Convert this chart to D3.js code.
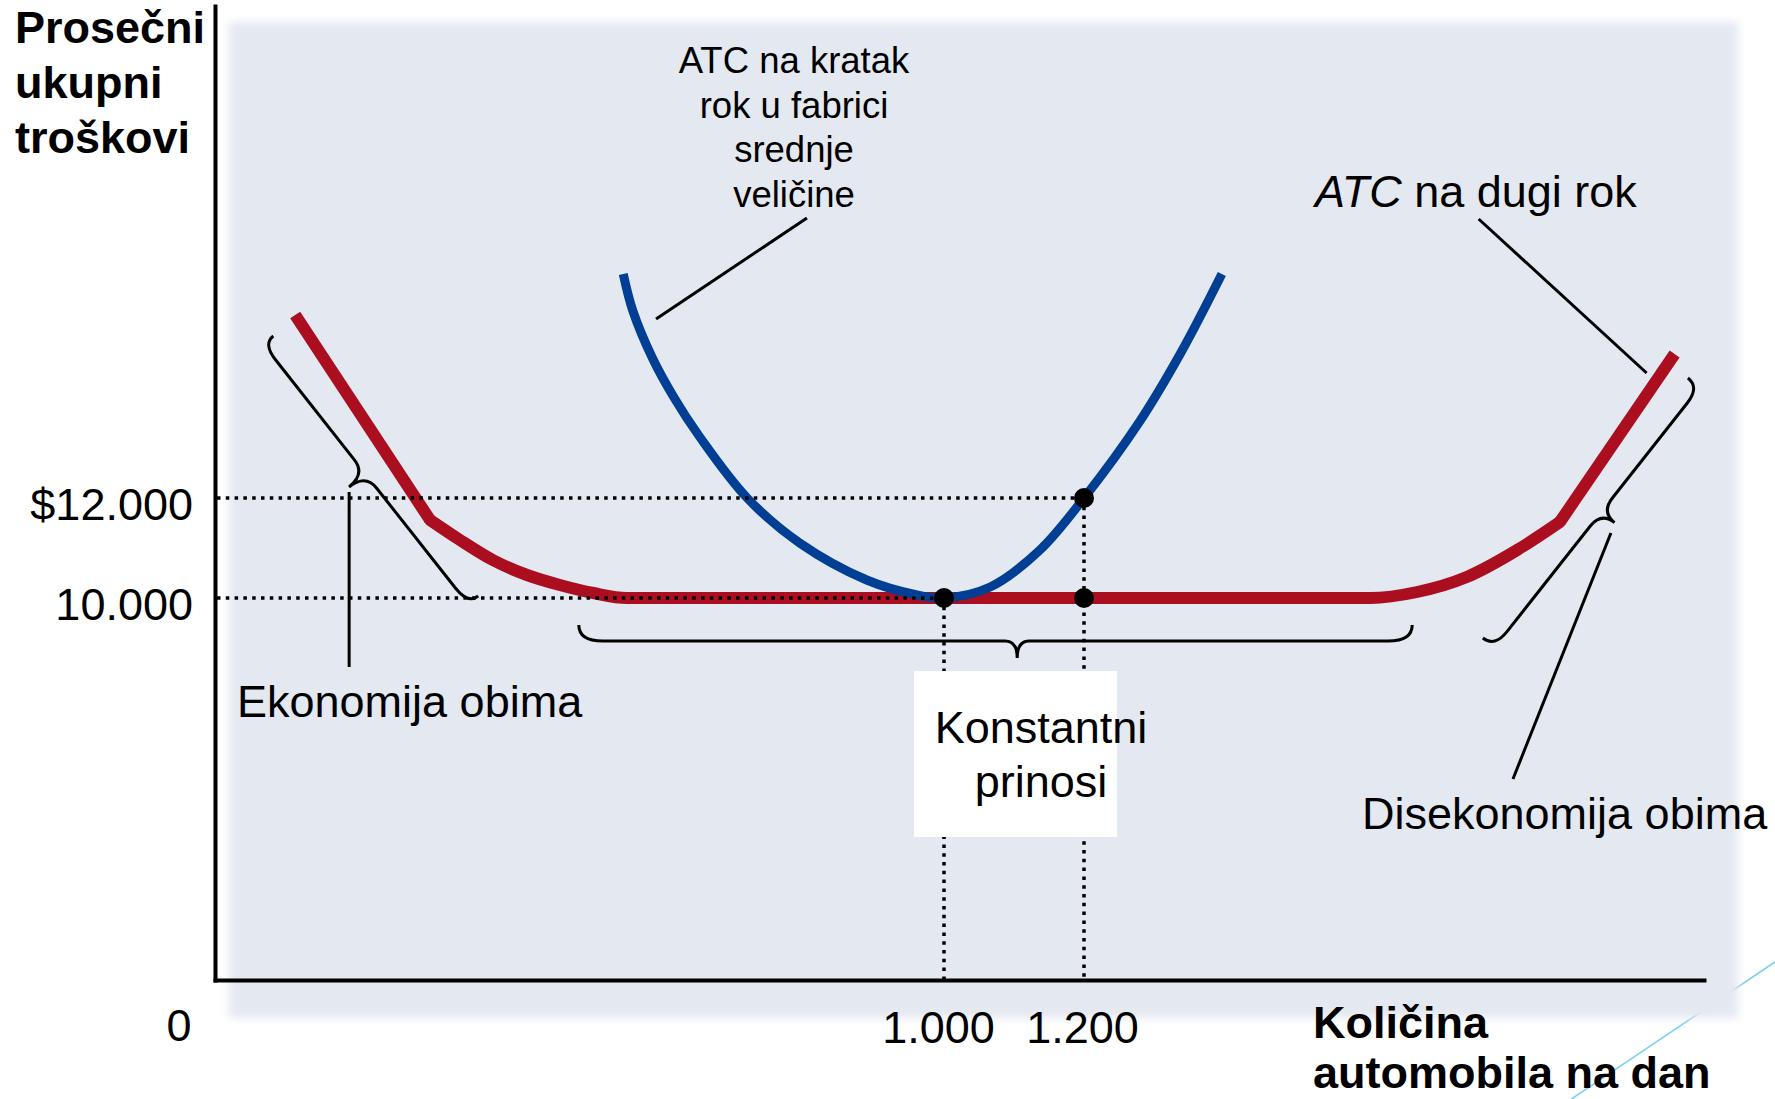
<!DOCTYPE html>
<html>
<head>
<meta charset="utf-8">
<script src="https://cdn.jsdelivr.net/npm/d3@7"></script>
<style>
  body { margin: 0; background: #fff; }
  text { font-family: "Liberation Sans", Arial, sans-serif; fill: #000; }
</style>
</head>
<body>
<div id="chart"></div>
<script>
// Long-run ATC (red): quantity of cars per day vs. average total cost
const lracQ = [110, 295, 336, 381, 428, 473, 519, 565, 1000, 1609, 1676, 1747, 1819, 1880, 2044];
const lracC = [15660, 11560, 11160, 10760, 10460, 10260, 10100, 10000, 10000, 10000, 10120, 10420, 10960, 11520, 14880];
// index of the two kinks where the straight arms meet the curved bottom
const lracKinks = [1, 13];

// Short-run ATC of the medium-size factory (blue)
const sracQ = [560, 573, 600, 630, 665, 730, 802, 894, 963, 1000, 1066, 1137, 1200, 1280, 1339, 1397];
const sracC = [16480, 15750, 14800, 14000, 13220, 12000, 11100, 10360, 10060, 10000, 10220, 10960, 12000, 13540, 14920, 16480];

// marked points
const pointQ = [1000, 1200, 1200];
const pointC = [10000, 12000, 10000];

// axis ticks
const xTicks = [1000, 1200];
const xTickLabels = ["1.000", "1.200"];
const yTicks = [10000, 12000];
const yTickLabels = ["10.000", "$12.000"];

// braces (start / end in data units, tip position as share of length)
const braceStartQ = [80, 499, 1770];
const braceStartC = [15240, 9293, 8953];
const braceEndQ = [361, 1669, 2063];
const braceEndC = [10040, 9293, 14400];
const braceTip = [0.5, 0.526, 0.52];

// leader lines
const leaderFromQ = [812, 1764, 184, 1953];
const leaderFromC = [17600, 17580, 12120, 11300];
const leaderToQ = [605, 2004, 184, 1813];
const leaderToC = [15580, 14500, 8194, 5262];

const width = 1775, height = 1099;

// schematic axes: the origin is not to scale, so use piecewise scales
const x = d3.scaleLinear()
            .domain([0, 1000, 1200, 2086])
            .range([215, 944, 1084, 1704]);
const y = d3.scaleLinear()
            .domain([0, 10000, 21840])
            .range([980, 598, 6]);

const svg = d3.select("#chart")
              .append("svg")
              .attr("width", width)
              .attr("height", height);

// slide decoration
svg.append("line")
   .attr("x1", 1775).attr("y1", 962)
   .attr("x2", 1570).attr("y2", 1100)
   .attr("stroke", "#7fcfee")
   .attr("stroke-width", 1.6);

// panel with soft edges
const defs = svg.append("defs");
defs.append("filter")
    .attr("id", "soft")
    .attr("x", "-5%").attr("y", "-5%")
    .attr("width", "110%").attr("height", "110%")
    .append("feGaussianBlur")
    .attr("stdDeviation", 4);

svg.append("rect")
   .attr("x", 229).attr("y", 22)
   .attr("width", 1509).attr("height", 996)
   .attr("fill", "#e4e8f0")
   .attr("filter", "url(#soft)");

const straight = d3.line()
                   .x(d => x(d[0]))
                   .y(d => y(d[1]));
const smooth = d3.line()
                 .x(d => x(d[0]))
                 .y(d => y(d[1]))
                 .curve(d3.curveMonotoneX);
const smoothU = d3.line()
                  .x(d => x(d[0]))
                  .y(d => y(d[1]))
                  .curve(d3.curveCatmullRom.alpha(0.5));

// braces
function bracePath(a, b, e, c, r, cr, tf) {
    const dx = b[0] - a[0], dy = b[1] - a[1];
    const L = Math.sqrt(dx * dx + dy * dy);
    const ux = dx / L, uy = dy / L;
    const vx = -uy, vy = ux;
    const P = (u, v) => [a[0] + u * ux + v * vx, a[1] + u * uy + v * vy].map(n => n.toFixed(1)).join(",");
    const t = L * tf;
    return "M" + P(0, 0) +
           "Q" + P(0, e) + " " + P(r, e) +
           "L" + P(t - cr, e) +
           "Q" + P(t, e) + " " + P(t, e + c) +
           "Q" + P(t, e) + " " + P(t + cr, e) +
           "L" + P(L - r, e) +
           "Q" + P(L, e) + " " + P(L, 0);
}

const braceStyle = [
    { e: 13, c: 21, r: 20, cr: 18 },
    { e: 16, c: 17, r: 24, cr: 12 },
    { e: 15, c: 17, r: 20, cr: 18 }
];

svg.append("g")
   .selectAll("path")
   .data(braceStartQ.map((q, i) => i))
   .join("path")
   .attr("d", i => {
        const s = braceStyle[i];
        return bracePath([x(braceStartQ[i]), y(braceStartC[i])],
                         [x(braceEndQ[i]), y(braceEndC[i])],
                         s.e, s.c, s.r, s.cr, braceTip[i]);
   })
   .attr("fill", "none")
   .attr("stroke", "#000")
   .attr("stroke-width", 3);

// leader lines
svg.append("g")
   .selectAll("line")
   .data(leaderFromQ.map((q, i) => i))
   .join("line")
   .attr("x1", i => x(leaderFromQ[i]))
   .attr("y1", i => y(leaderFromC[i]))
   .attr("x2", i => x(leaderToQ[i]))
   .attr("y2", i => y(leaderToC[i]))
   .attr("stroke", "#000")
   .attr("stroke-width", 3);

// long-run curve: straight arms + smooth bottom
const lrac = d3.zip(lracQ, lracC);
const red = svg.append("g")
               .attr("fill", "none")
               .attr("stroke", "#ab0f1f")
               .attr("stroke-width", 12);
red.append("path")
   .attr("d", straight(lrac.slice(0, lracKinks[0] + 1)));
red.append("path")
   .attr("d", straight(lrac.slice(lracKinks[1])));
red.append("path")
   .attr("stroke-linecap", "round")
   .attr("d", smooth(lrac.slice(lracKinks[0], lracKinks[1] + 1)));

// short-run curve
svg.append("path")
   .datum(d3.zip(sracQ, sracC))
   .attr("d", smoothU)
   .attr("fill", "none")
   .attr("stroke", "#003f94")
   .attr("stroke-width", 9);

// dotted guides
const guides = svg.append("g")
                  .attr("stroke", "#000")
                  .attr("stroke-width", 3.5)
                  .attr("stroke-dasharray", "3.5,5.3")
                  .attr("fill", "none");

guides.selectAll(".h")
      .data([0, 1])
      .join("line")
      .attr("class", "h")
      .attr("x1", x(0) + 2)
      .attr("x2", i => x(pointQ[i]))
      .attr("y1", i => y(pointC[i]))
      .attr("y2", i => y(pointC[i]));

guides.selectAll(".v")
      .data([0, 1])
      .join("line")
      .attr("class", "v")
      .attr("x1", i => x(pointQ[i]))
      .attr("x2", i => x(pointQ[i]))
      .attr("y1", i => y(pointC[i]))
      .attr("y2", y(0));

// label box for constant returns
svg.append("rect")
   .attr("x", 914).attr("y", 671)
   .attr("width", 203).attr("height", 166)
   .attr("fill", "#fff");

// points
svg.append("g")
   .selectAll("circle")
   .data(d3.zip(pointQ, pointC))
   .join("circle")
   .attr("cx", d => x(d[0]))
   .attr("cy", d => y(d[1]))
   .attr("r", 10)
   .attr("fill", "#000");

// axes
const xAxis = svg.append("g")
                 .attr("transform", `translate(0,${y(0)})`)
                 .call(d3.axisBottom(x)
                         .tickValues(xTicks)
                         .tickSize(0)
                         .tickPadding(31)
                         .tickFormat((d, i) => xTickLabels[i]));

const yAxis = svg.append("g")
                 .attr("transform", `translate(${x(0)},0)`)
                 .call(d3.axisLeft(y)
                         .tickValues(yTicks)
                         .tickSize(0)
                         .tickPadding(22)
                         .tickFormat((d, i) => yTickLabels[i]));

[xAxis, yAxis].forEach(g => {
    g.attr("font-family", null).attr("font-size", null);
    g.select(".domain")
     .attr("stroke", "#000")
     .attr("stroke-width", 4)
     .attr("stroke-linecap", "square");
    g.selectAll("text").style("font-size", "45px");
});
yAxis.selectAll("text").attr("dy", "0.47em");
xAxis.selectAll("text").attr("dx", (d, i) => [-6, -2][i]);

// origin label
svg.append("text")
   .attr("x", 179).attr("y", 1041)
   .attr("text-anchor", "middle")
   .style("font-size", "45px")
   .text("0");

// axis titles
const yTitle = ["Prosečni", "ukupni", "troškovi"];
svg.append("g")
   .selectAll("text")
   .data(yTitle)
   .join("text")
   .attr("x", 15)
   .attr("y", (d, i) => 43 + i * 55)
   .style("font-size", "45px")
   .style("font-weight", "bold")
   .text(d => d);

const xTitle = ["Količina", "automobila na dan"];
svg.append("g")
   .selectAll("text")
   .data(xTitle)
   .join("text")
   .attr("x", 1313)
   .attr("y", (d, i) => 1038 + i * 50)
   .style("font-size", "45px")
   .style("font-weight", "bold")
   .text(d => d);

// annotations
const srLabel = ["ATC na kratak", "rok u fabrici", "srednje", "veličine"];
svg.append("g")
   .selectAll("text")
   .data(srLabel)
   .join("text")
   .attr("x", 794)
   .attr("y", (d, i) => 73 + i * 44.7)
   .attr("text-anchor", "middle")
   .style("font-size", "36.5px")
   .text(d => d);

const lr = svg.append("text")
              .attr("x", 1315).attr("y", 207)
              .style("font-size", "45px");
lr.append("tspan").style("font-style", "italic").text("ATC");
lr.append("tspan").text(" na dugi rok");

svg.append("text")
   .attr("x", 237).attr("y", 717)
   .style("font-size", "45px")
   .text("Ekonomija obima");

svg.append("text")
   .attr("x", 1362).attr("y", 829)
   .style("font-size", "45px")
   .text("Disekonomija obima");

const crLabel = ["Konstantni", "prinosi"];
svg.append("g")
   .selectAll("text")
   .data(crLabel)
   .join("text")
   .attr("x", 1041)
   .attr("y", (d, i) => 743 + i * 54)
   .attr("text-anchor", "middle")
   .style("font-size", "45px")
   .text(d => d);
</script>
</body>
</html>
